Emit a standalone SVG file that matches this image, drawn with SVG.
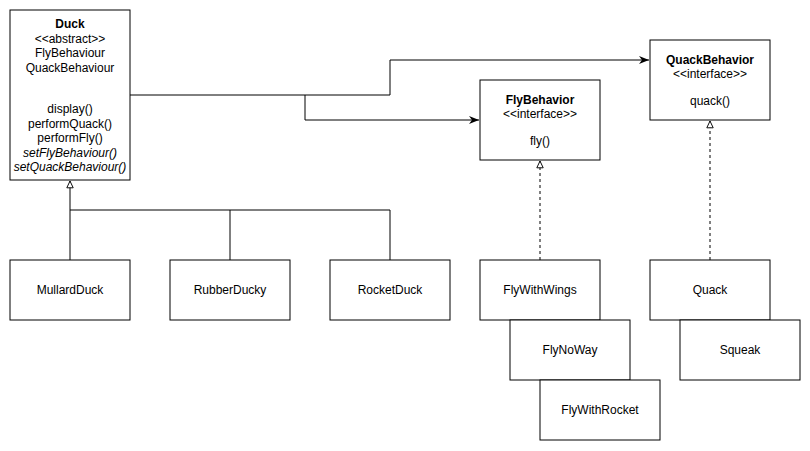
<svg xmlns="http://www.w3.org/2000/svg" width="810" height="451" viewBox="0 0 810 451">
<style>
.box{fill:#fff;stroke:#000;stroke-width:1}
text{font-family:"Liberation Sans",Arial,Helvetica,sans-serif;font-size:12px;fill:#000;text-anchor:middle}
.b{font-weight:bold}
.i{font-style:italic}
.ln{fill:none;stroke:#000;stroke-width:1}
.d{stroke-dasharray:3 3}
</style>
<defs>
<marker id="arr" viewBox="0 0 10 10" refX="10" refY="5" markerWidth="10" markerHeight="10" markerUnits="userSpaceOnUse" orient="auto">
<path d="M0,1 L10,5 L0,9 L3,5 Z" fill="#000"/>
</marker>
<marker id="tri" viewBox="0 0 10 10" refX="9.5" refY="5" markerWidth="8" markerHeight="8" markerUnits="userSpaceOnUse" orient="auto">
<path d="M1,1 L9.5,5 L1,9 Z" fill="#fff" stroke="#000" stroke-width="1.2"/>
</marker>
</defs>
<rect width="810" height="451" fill="#fff"/>
<g id="connectors">
<path class="ln" d="M130,95 H390 V60 H649" marker-end="url(#arr)"/>
<path class="ln" d="M305,95 V120 H479" marker-end="url(#arr)"/>
<path class="ln" d="M70,260 V181" marker-end="url(#tri)"/>
<path class="ln" d="M70,210 H390 V260 M230,210 V260"/>
<path class="ln d" d="M540,260 V161" marker-end="url(#tri)"/>
<path class="ln d" d="M710,260 V121" marker-end="url(#tri)"/>
</g>
<g id="duck">
<rect class="box" x="10" y="10" width="120" height="170"/>
<text x="70" y="28" class="b">Duck</text>
<text x="70" y="43">&lt;&lt;abstract&gt;&gt;</text>
<text x="70" y="57">FlyBehaviour</text>
<text x="70" y="72">QuackBehaviour</text>
<text x="70" y="113">display()</text>
<text x="70" y="128">performQuack()</text>
<text x="70" y="142">performFly()</text>
<text x="70" y="157" class="i">setFlyBehaviour()</text>
<text x="70" y="171" class="i">setQuackBehaviour()</text>
</g>
<g id="flybehavior">
<rect class="box" x="480" y="80" width="120" height="80"/>
<text x="540" y="104" class="b">FlyBehavior</text>
<text x="540" y="118">&lt;&lt;interface&gt;&gt;</text>
<text x="540" y="145">fly()</text>
</g>
<g id="quackbehavior">
<rect class="box" x="650" y="40" width="120" height="80"/>
<text x="710" y="64" class="b">QuackBehavior</text>
<text x="710" y="78">&lt;&lt;interface&gt;&gt;</text>
<text x="710" y="105">quack()</text>
</g>
<g id="mullardduck">
<rect class="box" x="10" y="260" width="120" height="60"/>
<text x="70" y="294">MullardDuck</text>
</g>
<g id="rubberducky">
<rect class="box" x="170" y="260" width="120" height="60"/>
<text x="230" y="294">RubberDucky</text>
</g>
<g id="rocketduck">
<rect class="box" x="330" y="260" width="120" height="60"/>
<text x="390" y="294">RocketDuck</text>
</g>
<g id="flywithwings">
<rect class="box" x="480" y="260" width="120" height="60"/>
<text x="540" y="294">FlyWithWings</text>
</g>
<g id="flynoway">
<rect class="box" x="510" y="320" width="120" height="60"/>
<text x="570" y="354">FlyNoWay</text>
</g>
<g id="flywithrocket">
<rect class="box" x="540" y="380" width="120" height="60"/>
<text x="600" y="414">FlyWithRocket</text>
</g>
<g id="quack">
<rect class="box" x="650" y="260" width="120" height="60"/>
<text x="710" y="294">Quack</text>
</g>
<g id="squeak">
<rect class="box" x="680" y="320" width="120" height="60"/>
<text x="740" y="354">Squeak</text>
</g>
</svg>
